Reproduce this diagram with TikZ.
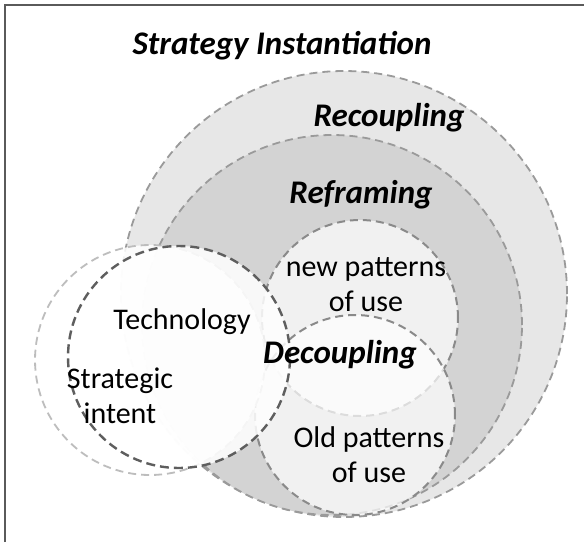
\documentclass[tikz,border=0pt]{standalone}
\usepackage{fontspec}
\setmainfont{Carlito}
\definecolor{ringline}{HTML}{9A9A9A}
\definecolor{useline}{HTML}{8A8A8A}
\definecolor{techline}{HTML}{5E5E5E}
\definecolor{intentline}{HTML}{BDBDBD}
\definecolor{recfill}{HTML}{E7E7E7}
\definecolor{reffill}{HTML}{D3D3D3}
\definecolor{framecol}{HTML}{5A5A5A}
\begin{document}
\begin{tikzpicture}[x=1pt,y=-1pt,
  ring/.style={draw=ringline, line width=1.8pt, dash pattern=on 8pt off 5pt},
  usering/.style={draw=useline, line width=2pt, dash pattern=on 8pt off 5pt,
                  fill=white, fill opacity=0.7},
  techring/.style={draw=techline, line width=2.4pt, dash pattern=on 9pt off 5pt,
                   fill=white, fill opacity=0.85},
  intentring/.style={draw=intentline, line width=1.8pt, dash pattern=on 8pt off 5pt,
                     fill=white, fill opacity=0.85},
  heading/.style={anchor=base, font=\fontsize{33}{38}\selectfont\bfseries\itshape},
  label/.style={anchor=base, align=center, font=\fontsize{30}{35}\selectfont}
]
\useasboundingbox (0,0) rectangle (584,542);
\fill[white] (0,0) rectangle (584,542);
% frame edges
\draw[framecol, line width=1.8pt] (5,542) -- (5,5) -- (584,5);

% nested stages
\filldraw[ring, fill=recfill] (344,294) circle[radius=223pt];
\filldraw[ring, fill=reffill] (332,325) circle[radius=190pt];

% patterns of use
\filldraw[usering, draw opacity=1] (360,318) circle[radius=98pt];
\filldraw[usering, draw opacity=1] (355,415) circle[radius=100pt];

% strategic intent and technology
\filldraw[intentring, draw opacity=1] (150,360) circle[radius=115pt];
\filldraw[techring, draw opacity=1] (179,357) circle[radius=111pt];

% labels (two-line labels are placed by the baseline of their last line)
\node[heading] (title) at (282,54) {Strategy Instantiation};
\node[heading] (recoupling) at (389,126) {Recoupling};
\node[heading] (reframing) at (361,203) {Reframing};
\node[heading] (decoupling) at (340,363) {Decoupling};
\node[label] (technology) at (182,329) {Technology};
\node[label] (intent) at (120,423) {Strategic\\intent};
\node[label] (newuse) at (366,311) {new patterns\\of use};
\node[label] (olduse) at (369,482) {Old patterns\\of use};
\end{tikzpicture}
\end{document}
